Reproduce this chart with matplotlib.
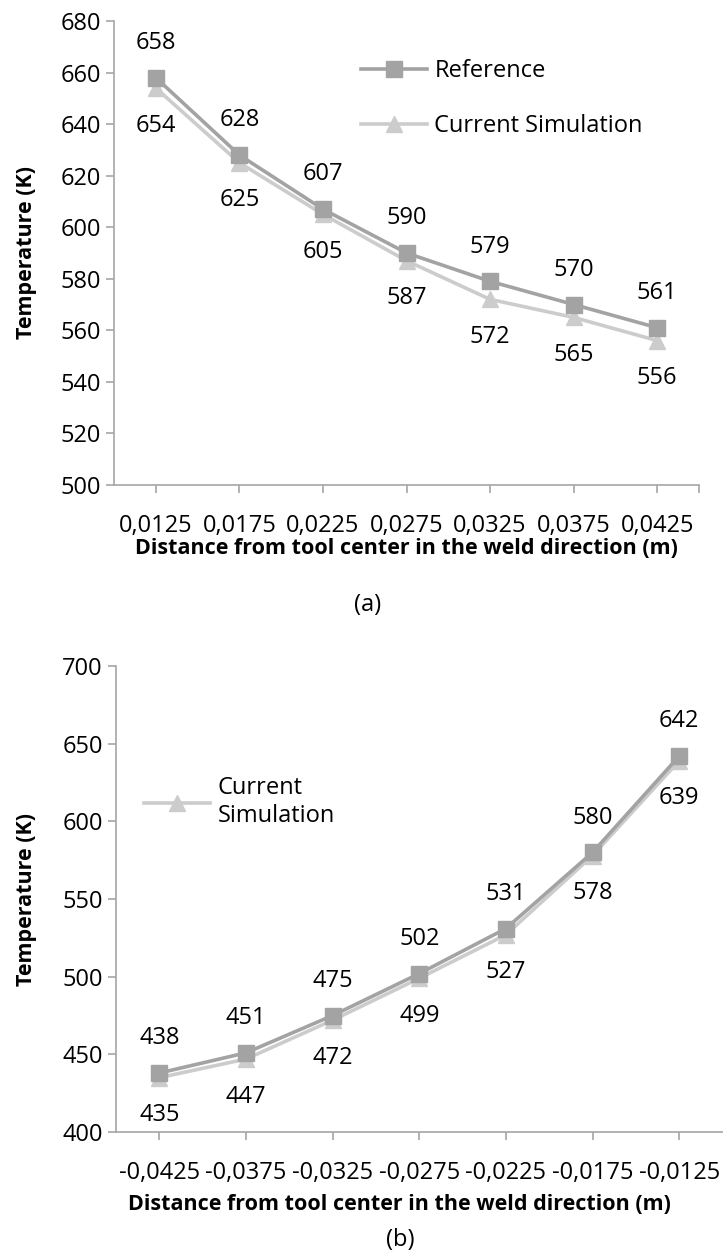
import matplotlib.pyplot as plt
from matplotlib.lines import Line2D

plt.rcParams['font.family'] = ['Open Sans', 'DejaVu Sans']

# panel (a)
labels_a = ['0,0125', '0,0175', '0,0225', '0,0275', '0,0325', '0,0375', '0,0425']
ref_a = [658, 628, 607, 590, 579, 570, 561]
sim_a = [654, 625, 605, 587, 572, 565, 556]

# panel (b)
labels_b = ['-0,0425', '-0,0375', '-0,0325', '-0,0275', '-0,0225', '-0,0175', '-0,0125']
ref_b = [438, 451, 475, 502, 531, 580, 642]
sim_b = [435, 447, 472, 499, 527, 578, 639]

REF_COLOR = '#a3a3a3'
SIM_COLOR = '#cccccc'
AXIS_COLOR = '#a6a6a6'
TICK_SIZE = 17
LABEL_SIZE = 15.5


def draw_panel(ax, labels, ref, sim, ylim, ystep, end_tick):
    x = list(range(len(labels)))
    ax.plot(x, ref, color=REF_COLOR, lw=2.6, marker='s', ms=12, zorder=3)
    ax.plot(x, sim, color=SIM_COLOR, lw=2.6, marker='^', ms=12, zorder=2)

    for xi, v in zip(x, ref):
        ax.annotate(str(v), (xi, v), xytext=(0, 25), textcoords='offset points',
                    ha='center', va='center', fontsize=TICK_SIZE)
    for xi, v in zip(x, sim):
        ax.annotate(str(v), (xi, v), xytext=(0, -27), textcoords='offset points',
                    ha='center', va='center', fontsize=TICK_SIZE)

    ax.set_xlim(-0.5, len(labels) - 0.5)
    ax.set_ylim(*ylim)
    ax.set_yticks(range(ylim[0], ylim[1] + 1, ystep))
    ticks = x + ([len(labels) - 0.5] if end_tick else [])
    ax.set_xticks(ticks)
    ax.set_xticklabels(labels + ([''] if end_tick else []))

    for side in ['top', 'right']:
        ax.spines[side].set_visible(False)
    for side in ['left', 'bottom']:
        ax.spines[side].set_color(AXIS_COLOR)
        ax.spines[side].set_linewidth(1.2)
    ax.tick_params(axis='both', colors=AXIS_COLOR, labelcolor='black',
                   labelsize=TICK_SIZE, length=6, width=1.2)
    ax.tick_params(axis='x', pad=15)
    ax.set_ylabel('Temperature (K)', fontsize=LABEL_SIZE, fontweight='bold')


fig = plt.figure(figsize=(7.23, 12.57), dpi=100)

ax1 = fig.add_axes([0.1577, 0.6142, 0.8091, 0.3691])
draw_panel(ax1, labels_a, ref_a, sim_a, (500, 680), 20, True)
ax1.yaxis.set_label_coords(-0.132, 0.5)
ax1.set_xlabel('Distance from tool center in the weld direction (m)',
               fontsize=LABEL_SIZE, fontweight='bold', labelpad=0)

handles = [Line2D([], [], color=REF_COLOR, lw=2.6, marker='s', ms=12),
           Line2D([], [], color=SIM_COLOR, lw=2.6, marker='^', ms=12)]
ax1.legend(handles, ['Reference', 'Current Simulation'], frameon=False,
           fontsize=TICK_SIZE, loc='upper left', bbox_to_anchor=(0.47, 1 - 38 / 1257),
           bbox_transform=fig.transFigure, handlelength=2.8, handletextpad=0.3,
           labelspacing=1.3)
fig.text(0.509, 1 - 605 / 1257, '(a)', ha='center', va='center', fontsize=TICK_SIZE)

ax2 = fig.add_axes([0.1604, 0.0994, 0.8390, 0.3708])
draw_panel(ax2, labels_b, ref_b, sim_b, (400, 700), 50, False)
ax2.yaxis.set_label_coords(-0.130, 0.5)
ax2.legend(handles[1:], ['Current\nSimulation'], frameon=False,
           fontsize=TICK_SIZE, loc='upper left', bbox_to_anchor=(0.17, 1 - 755 / 1257),
           bbox_transform=fig.transFigure, handlelength=2.8, handletextpad=0.3)
fig.text(0.553, 1 - 1205 / 1257, 'Distance from tool center in the weld direction (m)',
         ha='center', va='center', fontsize=LABEL_SIZE, fontweight='bold')
fig.text(0.553, 1 - 1240 / 1257, '(b)', ha='center', va='center', fontsize=TICK_SIZE)

fig.savefig('out.png', dpi=100)
